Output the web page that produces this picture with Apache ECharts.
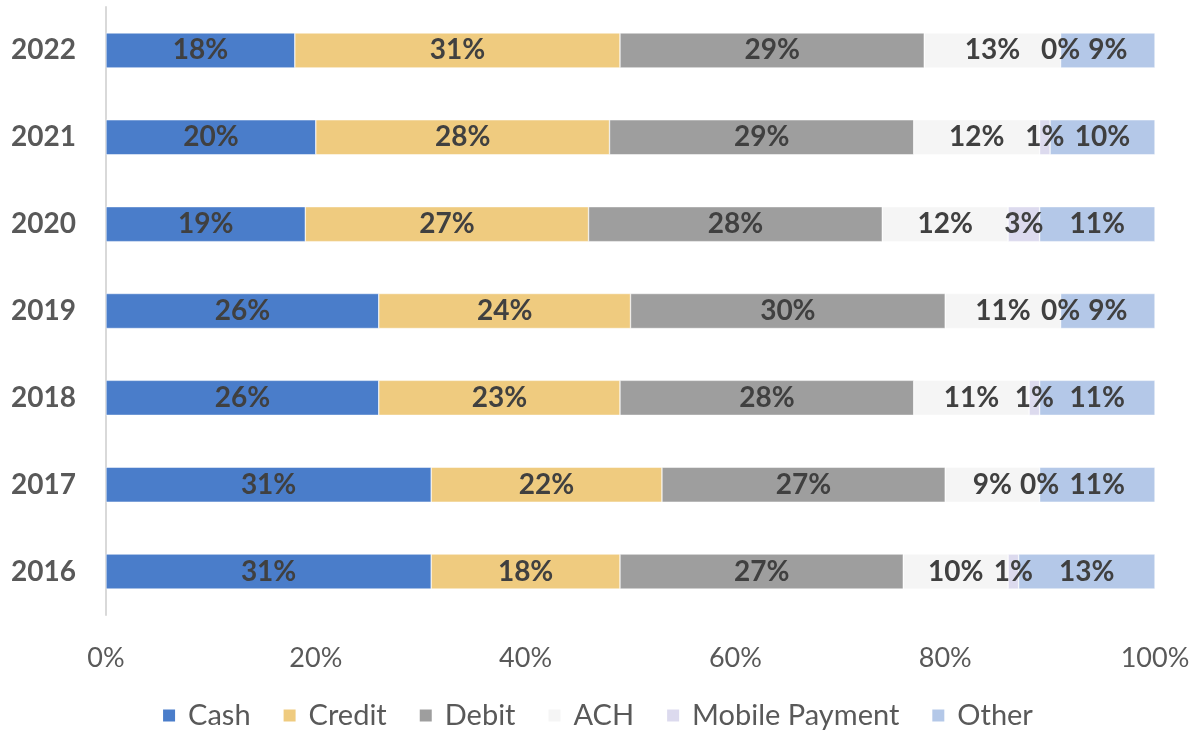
<!DOCTYPE html>
<html>
<head>
<meta charset="utf-8">
<script src="https://cdn.jsdelivr.net/npm/echarts@6/dist/echarts.min.js"></script>
<style>
html,body{margin:0;padding:0;background:#fff;}
#chart{width:1194px;height:733px;}
</style>
</head>
<body>
<div id="chart"></div>
<script>
const years = ['2016','2017','2018','2019','2020','2021','2022'];
const seriesNames = ['Cash','Credit','Debit','ACH','Mobile Payment','Other'];
const cash   = [31, 31, 26, 26, 19, 20, 18];
const credit = [18, 22, 23, 24, 27, 28, 31];
const debit  = [27, 27, 28, 30, 28, 29, 29];
const ach    = [10,  9, 11, 11, 12, 12, 13];
const mobile = [ 1,  0,  1,  0,  3,  1,  0];
const other  = [13, 11, 11,  9, 11, 10,  9];
const xTicks = [0, 20, 40, 60, 80, 100];

const colors = ['#4A7DCA','#EFCB7F','#9E9E9E','#F5F5F5','#DCDAEE','#B4C8E8'];
const dataSets = [cash, credit, debit, ach, mobile, other];
const FONT = 'Lato, "Open Sans", sans-serif';

const chart = echarts.init(document.getElementById('chart'));
chart.setOption({
  animation: false,
  grid: {left: 106, right: 39, top: 7, bottom: 118},
  legend: {
    bottom: -2,
    left: 'center',
    itemWidth: 14,
    itemHeight: 14,
    itemGap: 31,
    icon: 'rect',
    textStyle: {fontFamily: FONT, fontSize: 29, color: '#595959', padding: [0, 0, 0, 7]},
    data: seriesNames
  },
  xAxis: {
    type: 'value',
    min: 0,
    max: 100,
    interval: 20,
    splitLine: {show: false},
    axisLine: {show: false},
    axisTick: {show: false},
    axisLabel: {
      margin: 30,
      fontFamily: FONT,
      fontSize: 27,
      color: '#595959',
      formatter: v => xTicks.includes(v) ? v + '%' : ''
    }
  },
  yAxis: {
    type: 'category',
    data: years,
    axisLine: {show: true, lineStyle: {color: '#D9D9D9', width: 2}},
    axisTick: {show: false},
    axisLabel: {
      margin: 30,
      fontFamily: FONT,
      fontSize: 28,
      fontWeight: 'bold',
      color: '#595959'
    }
  },
  series: seriesNames.map((name, i) => ({
    name: name,
    type: 'bar',
    stack: 'total',
    barWidth: 35,
    data: dataSets[i],
    itemStyle: {color: colors[i], borderColor: '#ffffff', borderWidth: 0.5},
    label: {
      show: true,
      position: 'inside',
      formatter: '{c}%',
      fontFamily: FONT,
      fontSize: 28,
      fontWeight: 'bold',
      color: '#404040'
    }
  }))
});
</script>
</body>
</html>
